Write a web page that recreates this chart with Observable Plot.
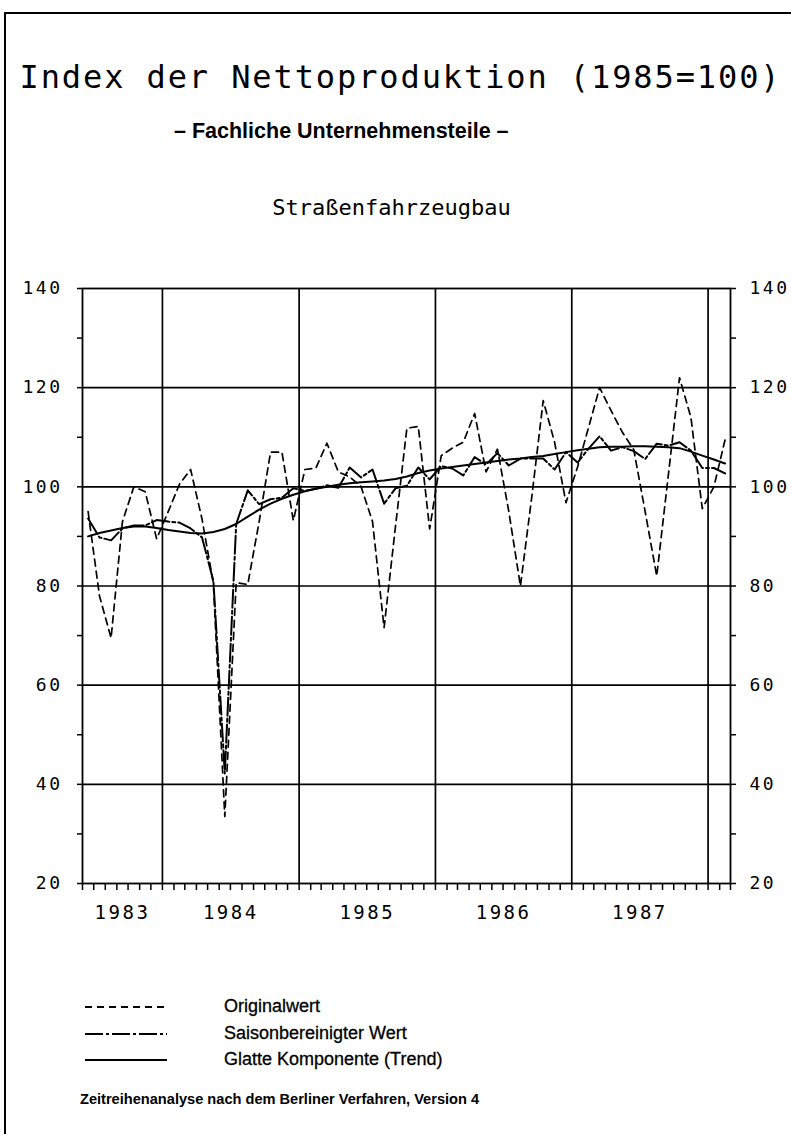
<!DOCTYPE html>
<html>
<head>
<meta charset="utf-8">
<script src="https://cdn.jsdelivr.net/npm/d3@7"></script>
<script src="https://cdn.jsdelivr.net/npm/@observablehq/plot@0.6"></script>
<style>
  body { margin: 0; background: #fff; }
  #page { position: relative; width: 791px; height: 1134px; overflow: hidden; background: #fff; color: #000; }
  #frame { position: absolute; left: 4px; top: 12px; width: 900px; height: 1300px; border-top: 2px solid #000; border-left: 2px solid #000; }
  .t { position: absolute; left: 0; width: 791px; text-align: center; white-space: nowrap; line-height: 1; }
  #title { top: 61px; left: 5px; font-family: "DejaVu Sans Mono", monospace; font-size: 32px; letter-spacing: 1.9px; }
  #subtitle { position: absolute; top: 121px; left: 174px; line-height: 1; white-space: nowrap; font-family: "Liberation Sans", Arial, sans-serif; font-weight: bold; font-size: 21.5px; }
  #panel { top: 197px; left: -4px; font-family: "DejaVu Sans Mono", monospace; font-size: 22px; }
  #chart { position: absolute; left: 0; top: 250px; }
  #legend { position: absolute; left: 0; top: 996px; font-family: "Liberation Sans", Arial, sans-serif; font-size: 18px; }
  .row { position: absolute; left: 0; height: 20px; width: 600px; }
  .row svg { position: absolute; left: 84px; top: 0; }
  .row span { position: absolute; left: 224px; top: 0px; white-space: nowrap; -webkit-text-stroke: 0.3px #000; }
  #caption { position: absolute; left: 80px; top: 1091px; font-family: "Liberation Sans", Arial, sans-serif; font-weight: bold; font-size: 14.6px; white-space: nowrap; }
</style>
</head>
<body>
<div id="page">
  <div id="frame"></div>
  <div class="t" id="title">Index der Nettoproduktion (1985=100)</div>
  <div id="subtitle">– Fachliche Unternehmensteile –</div>
  <div class="t" id="panel">Straßenfahrzeugbau</div>
  <div id="chart"></div>
  <div id="legend"></div>
  <div id="caption">Zeitreihenanalyse nach dem Berliner Verfahren, Version 4</div>
</div>
<script>
// ---- data (monthly, June 1983 – February 1988) ----
const firstMonth = "1983-06";
const original = [95, 78, 69.5, 93, 100, 99, 89.5,
  95, 100.5, 103.5, 93.5, 80.5, 33.5, 80.7, 80.3, 93, 107, 107, 93.2,
  103.5, 103.8, 108.8, 103, 102, 100, 93, 71.6, 92, 111.8, 112.2, 91.5,
  106.3, 107.8, 109, 114.8, 103, 107.6, 95, 80, 98, 117.4, 109, 96.8,
  104, 112, 120, 115.4, 111, 107.5, 95, 82, 102, 122, 114, 95.6,
  100, 109.5];
const adjusted = [93.6, 89.8, 89.2, 91.6, 92.2, 92.2, 93.3,
  93, 92.8, 91.6, 89.8, 81, 42.2, 92.5, 99.3, 96.5, 97.5, 97.8, 99.7,
  99.2, 99.6, 100.3, 99.8, 103.9, 101.9, 103.5, 96.6, 99.7, 100.2, 103.9, 101.5,
  104.2, 103.7, 102.3, 106, 104.5, 106.8, 104.3, 105.7, 105.7, 105.7, 103.5, 107,
  104.9, 107.7, 110.2, 107.3, 108, 107.2, 105.6, 108.7, 108.3, 109, 107.3, 103.8,
  103.8, 102.7];
const trend = [90, 90.7, 91.2, 91.7, 92, 92, 91.7,
  91.3, 91, 90.7, 90.6, 90.9, 91.5, 92.5, 94, 95.4, 96.6, 97.6, 98.4,
  99.1, 99.6, 100, 100.4, 100.7, 100.9, 101.1, 101.3, 101.6, 102.1, 102.8, 103.3,
  103.7, 104, 104.3, 104.6, 104.9, 105.2, 105.5, 105.7, 106, 106.2, 106.6, 107,
  107.4, 107.7, 108, 108.1, 108.1, 108.2, 108.2, 108.1, 108, 107.8, 107.1, 106.3,
  105.5, 104.7];
const yearLabels = ["1983", "1984", "1985", "1986", "1987"];
const yTicks = [20, 30, 40, 50, 60, 70, 80, 90, 100, 110, 120, 130, 140];
const yLabelled = [20, 40, 60, 80, 100, 120, 140];
const seriesNames = ["Originalwert", "Saisonbereinigter Wert", "Glatte Komponente (Trend)"];

// ---- derived ----
const start = d3.utcParse("%Y-%m")(firstMonth);
const end = d3.utcMonth.offset(start, original.length);
const months = d3.utcMonth.range(start, end);
const midOf = (a, b) => new Date((+a + +b) / 2);
const rows = months.map((m, i) => ({
  date: midOf(m, d3.utcMonth.offset(m, 1)),
  original: original[i], adjusted: adjusted[i], trend: trend[i]
}));
const yearStarts = d3.utcYear.range(d3.utcYear.ceil(start), end.getTime() + 1);
const labelRows = yearLabels.map(s => {
  const y0 = d3.utcParse("%Y")(s), y1 = d3.utcYear.offset(y0, 1);
  return { text: s, date: midOf(y0 < start ? start : y0, y1 > end ? end : y1) };
});
const gridY = yLabelled.filter(v => v > 20 && v < 140);

const dashOrig = "7,5";
const dashAdj = "18,3,3,3";

const chart = Plot.plot({
  width: 791, height: 700,
  marginLeft: 82, marginRight: 61, marginTop: 38, marginBottom: 67,
  style: { fontFamily: "'DejaVu Sans Mono', monospace", fontSize: "18px", letterSpacing: "2.5px", color: "#000", background: "transparent" },
  x: { type: "utc", domain: [start, end] },
  y: { domain: [20, 140] },
  marks: [
    Plot.ruleY(gridY, { stroke: "#000", strokeWidth: 1.7 }),
    Plot.ruleX(yearStarts, { y1: 20, y2: 140, stroke: "#000", strokeWidth: 1.7 }),
    Plot.frame({ stroke: "#000", strokeWidth: 1.8 }),
    Plot.axisY({ anchor: "left", ticks: yTicks, tickSize: 5, tickPadding: 15, strokeWidth: 1.5,
      tickFormat: d => yLabelled.includes(d) ? String(d) : "", label: null }),
    Plot.axisY({ anchor: "right", ticks: yTicks, tickSize: 5, tickPadding: 14, strokeWidth: 1.5,
      tickFormat: d => yLabelled.includes(d) ? String(d) : "", label: null }),
    Plot.axisX({ ticks: d3.utcMonth.range(start, d3.utcMonth.offset(end, 1)), tickSize: 7, strokeWidth: 1.5,
      tickFormat: () => "", label: null }),
    Plot.text(labelRows, { x: "date", y: 20, text: "text", dy: 29, fontSize: 19, letterSpacing: 3 }),
    Plot.line(rows, { x: "date", y: "original", stroke: "#000", strokeWidth: 1.7, strokeDasharray: dashOrig }),
    Plot.line(rows, { x: "date", y: "adjusted", stroke: "#000", strokeWidth: 2, strokeDasharray: dashAdj }),
    Plot.line(rows, { x: "date", y: "trend", stroke: "#000", strokeWidth: 2 })
  ]
});
document.getElementById("chart").appendChild(chart);

// ---- legend ----
const legend = document.getElementById("legend");
const styles = [dashOrig, dashAdj, null];
const rowTops = [0, 27, 53];
seriesNames.forEach((name, i) => {
  const r = document.createElement("div");
  r.className = "row";
  r.style.top = rowTops[i] + "px";
  const dash = styles[i] ? ` stroke-dasharray="${styles[i]}"` : "";
  r.innerHTML = `<svg width="84" height="20"><line x1="1" x2="83" y1="11" y2="11" stroke="#000" stroke-width="2"${dash}/></svg><span>${name}</span>`;
  legend.appendChild(r);
});
</script>
</body>
</html>
